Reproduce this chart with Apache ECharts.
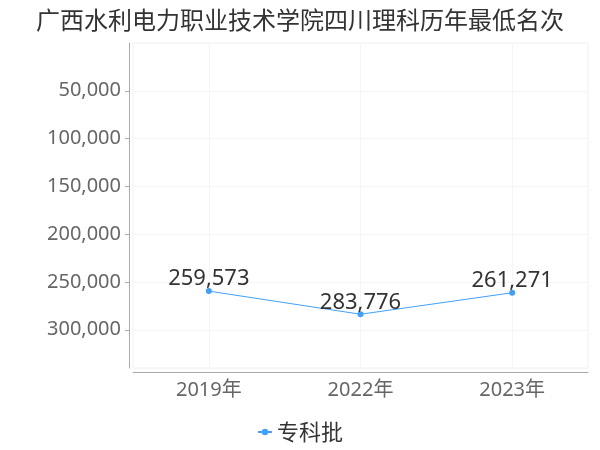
<!DOCTYPE html>
<html>
<head>
<meta charset="utf-8">
<script src="https://cdn.jsdelivr.net/npm/echarts@6/dist/echarts.min.js"></script>
<style>html,body{margin:0;padding:0;background:#fff}#c{width:600px;height:450px}</style>
</head>
<body>
<div id="c"></div>
<script>
var titleText = '广西水利电力职业技术学院四川理科历年最低名次';
var categories = ['2019年', '2022年', '2023年'];
var seriesName = '专科批';
var values = [259573, 283776, 261271];
var yMin = 0, yMax = 340000, yInterval = 50000;

var chart = echarts.init(document.getElementById('c'));
chart.setOption({
  animation: false,
  title: {
    text: titleText, left: 'center', top: 3,
    textStyle: { fontSize: 24, fontWeight: 'normal', color: '#333', fontFamily: 'Noto Sans CJK SC' }
  },
  legend: {
    bottom: 2, left: 'center', itemWidth: 14, itemHeight: 8,
    textStyle: { fontSize: 22, color: '#333', fontFamily: 'Noto Sans CJK SC' },
    data: [seriesName]
  },
  grid: { left: 133, right: 12, top: 43, bottom: 82, show: true, borderColor: '#f0f0f0', borderWidth: 1 },
  xAxis: {
    type: 'category', position: 'bottom', data: categories, boundaryGap: true, offset: 4,
    axisLine: { onZero: false, lineStyle: { color: '#aaa' } },
    axisTick: { alignWithLabel: true, length: 4, lineStyle: { color: '#aaa' } },
    splitLine: { show: true, alignWithLabel: true, lineStyle: { color: '#f5f5f5' } },
    axisLabel: { fontSize: 20, color: '#666', margin: 8, fontFamily: 'Noto Sans, Noto Sans CJK SC' }
  },
  yAxis: {
    type: 'value', inverse: true, min: yMin, max: yMax, interval: yInterval, offset: 4,
    axisLine: { show: true, onZero: false, lineStyle: { color: '#aaa' } },
    axisTick: { show: true, length: 4, lineStyle: { color: '#aaa' } },
    splitLine: { show: true, lineStyle: { color: '#f5f5f5' } },
    axisLabel: {
      fontSize: 20, color: '#666', margin: 8, fontFamily: 'Noto Sans',
      showMinLabel: false, showMaxLabel: false,
      formatter: function (v) { return v.toLocaleString('en-US'); }
    }
  },
  series: [{
    name: seriesName, type: 'line', data: values,
    symbol: 'circle', symbolSize: 6,
    itemStyle: { color: '#3fa0ff' },
    lineStyle: { width: 1, color: '#3fa0ff' },
    label: {
      show: true, position: 'top', distance: 2, offset: [0, 4], fontSize: 22, color: '#333', fontFamily: 'Noto Sans',
      formatter: function (p) { return p.value.toLocaleString('en-US'); }
    }
  }]
});
</script>
</body>
</html>
